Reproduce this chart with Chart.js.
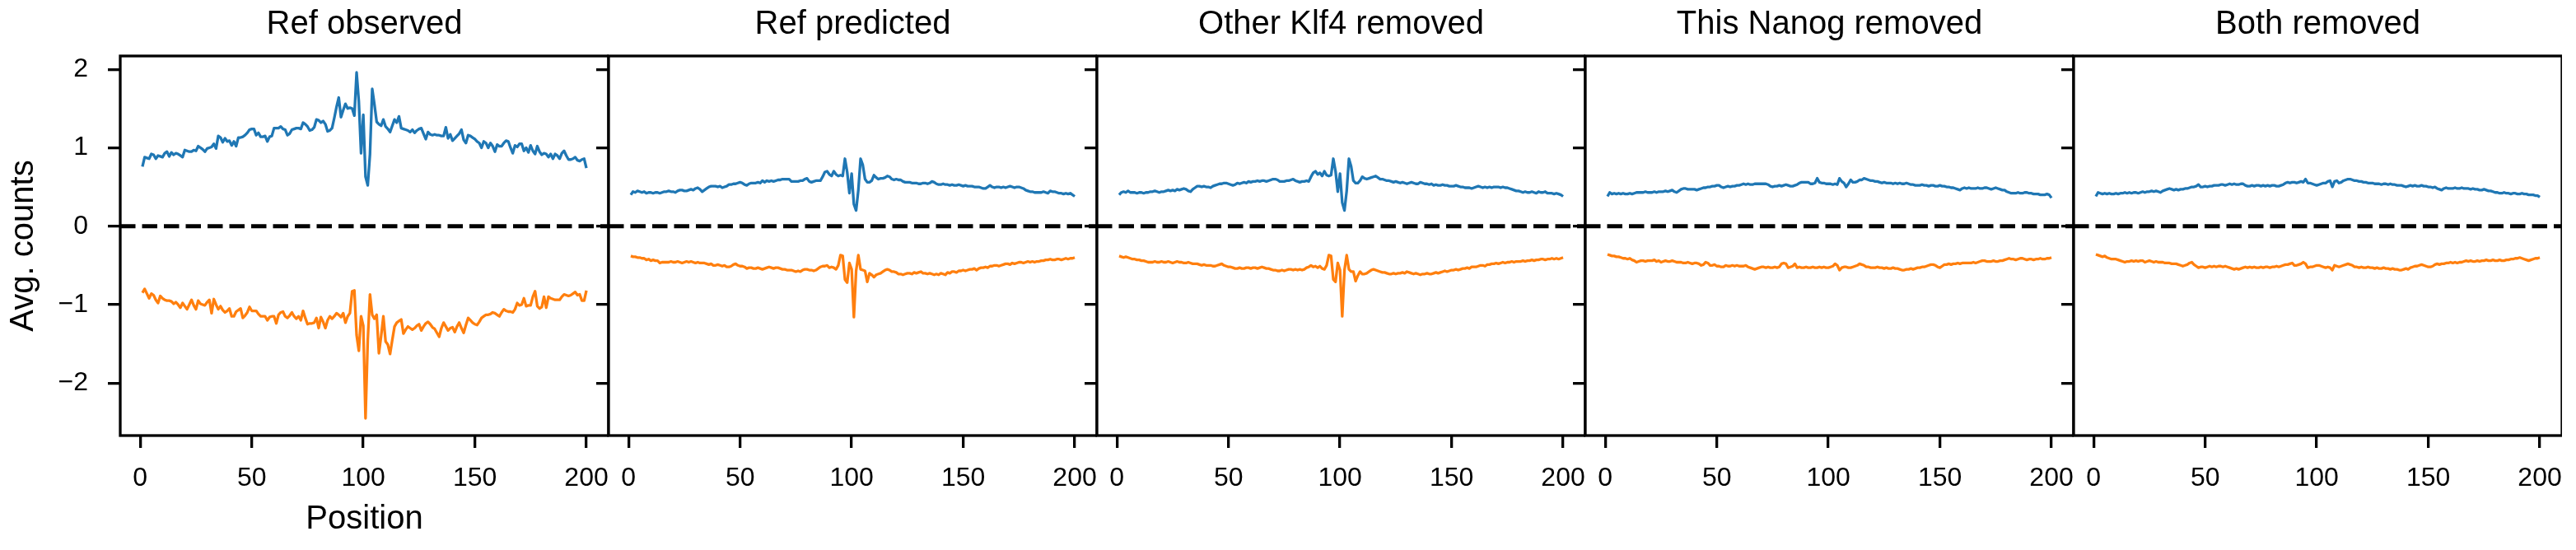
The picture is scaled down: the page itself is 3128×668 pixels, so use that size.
<!DOCTYPE html>
<html>
<head>
<meta charset="utf-8">
<script src="https://cdn.jsdelivr.net/npm/chart.js@4.4.1/dist/chart.umd.min.js"></script>
<style>
html, body { margin: 0; padding: 0; background: #fff; }
#wrap { position: relative; width: 3128px; height: 668px; overflow: hidden; }
#wrap canvas { position: absolute; top: 0; }
</style>
</head>
<body>
<div id="wrap"></div>
<script>
// x positions along the 200 bp window
const positions = Array.from({length: 200}, (_, i) => i + 1);
const panelTitles = ['Ref observed', 'Ref predicted', 'Other Klf4 removed', 'This Nanog removed', 'Both removed'];
const xTicks = [0, 50, 100, 150, 200];
const yTicks = [-2, -1, 0, 1, 2];
const xRange = [-8.95, 209.95];
const yRange = [-2.67, 2.17];

// Ref observed
const obsPos = [
  0.76,0.88,0.87,0.86,0.92,0.91,0.86,0.90,0.89,0.88,
  0.93,0.95,0.89,0.94,0.91,0.93,0.92,0.90,0.88,0.97,
  0.96,0.95,0.95,0.97,0.96,1.02,1.00,0.98,0.95,0.99,
  1.00,1.01,1.05,0.99,1.15,1.13,1.07,1.12,1.08,1.09,
  1.03,1.08,1.02,1.13,1.13,1.14,1.16,1.19,1.23,1.24,
  1.24,1.16,1.19,1.14,1.14,1.15,1.08,1.14,1.15,1.25,
  1.25,1.25,1.27,1.24,1.23,1.16,1.18,1.23,1.24,1.25,
  1.25,1.24,1.32,1.30,1.27,1.22,1.23,1.26,1.36,1.35,
  1.32,1.34,1.30,1.21,1.22,1.25,1.38,1.52,1.64,1.39,
  1.48,1.56,1.50,1.51,1.50,1.41,1.96,1.59,0.93,1.42,
  0.63,0.52,0.92,1.75,1.55,1.33,1.30,1.28,1.36,1.27,
  1.24,1.20,1.28,1.36,1.32,1.40,1.25,1.24,1.23,1.22,
  1.20,1.23,1.19,1.22,1.24,1.25,1.18,1.11,1.20,1.17,
  1.16,1.17,1.16,1.16,1.15,1.15,1.26,1.12,1.17,1.09,
  1.12,1.15,1.18,1.23,1.10,1.06,1.16,1.15,1.13,1.11,
  1.08,1.06,1.00,1.08,1.06,1.00,1.06,1.02,0.95,1.04,
  1.02,1.02,1.06,1.09,1.08,1.00,0.93,1.03,1.01,1.05,
  1.05,0.96,1.00,0.94,1.03,0.96,0.92,1.02,0.95,0.91,
  0.93,0.92,0.88,0.92,0.86,0.92,0.90,0.86,0.93,0.96,
  0.90,0.85,0.85,0.86,0.88,0.84,0.83,0.85,0.86,0.74
];
const obsNeg = [
  -0.85,-0.80,-0.86,-0.92,-0.86,-0.88,-0.94,-0.98,-0.89,-0.92,
  -0.94,-0.95,-0.95,-0.96,-0.99,-0.97,-1.00,-1.04,-0.98,-1.02,
  -1.06,-1.00,-0.94,-1.01,-1.06,-0.95,-0.99,-1.00,-1.01,-0.97,
  -0.94,-1.11,-0.93,-1.00,-1.06,-1.02,-1.07,-1.10,-1.08,-1.05,
  -1.15,-1.15,-1.09,-1.07,-1.05,-1.17,-1.14,-1.10,-1.03,-1.08,
  -1.08,-1.08,-1.12,-1.15,-1.15,-1.15,-1.20,-1.16,-1.15,-1.15,
  -1.24,-1.13,-1.10,-1.09,-1.15,-1.17,-1.14,-1.10,-1.15,-1.18,
  -1.15,-1.20,-1.08,-1.17,-1.25,-1.24,-1.24,-1.23,-1.17,-1.30,
  -1.16,-1.22,-1.30,-1.20,-1.15,-1.18,-1.15,-1.11,-1.13,-1.16,
  -1.11,-1.23,-1.15,-1.11,-0.83,-0.82,-1.39,-1.59,-1.15,-1.27,
  -2.45,-1.46,-0.87,-1.13,-1.18,-1.13,-1.62,-1.40,-1.15,-1.47,
  -1.51,-1.63,-1.45,-1.28,-1.23,-1.21,-1.19,-1.37,-1.32,-1.28,
  -1.30,-1.32,-1.30,-1.27,-1.25,-1.33,-1.28,-1.24,-1.22,-1.25,
  -1.29,-1.31,-1.36,-1.41,-1.30,-1.23,-1.28,-1.33,-1.30,-1.29,
  -1.35,-1.28,-1.23,-1.30,-1.36,-1.26,-1.17,-1.20,-1.23,-1.25,
  -1.26,-1.22,-1.17,-1.15,-1.13,-1.13,-1.12,-1.10,-1.11,-1.13,
  -1.15,-1.10,-1.06,-1.08,-1.09,-1.09,-1.10,-1.06,-0.98,-1.01,
  -1.00,-0.92,-1.02,-1.01,-1.01,-0.90,-0.83,-1.02,-1.05,-1.03,
  -0.90,-1.04,-0.90,-0.92,-0.93,-0.94,-0.94,-0.94,-0.90,-0.87,
  -0.88,-0.89,-0.88,-0.86,-0.84,-0.88,-0.87,-0.95,-0.95,-0.82
];

// Ref predicted
const predPos = [
  0.40,0.44,0.43,0.45,0.44,0.43,0.44,0.42,0.43,0.43,
  0.42,0.43,0.43,0.42,0.43,0.44,0.44,0.45,0.44,0.44,
  0.43,0.45,0.46,0.46,0.45,0.45,0.46,0.47,0.46,0.48,
  0.49,0.47,0.44,0.46,0.48,0.50,0.51,0.51,0.51,0.50,
  0.51,0.49,0.50,0.51,0.53,0.53,0.54,0.54,0.55,0.56,
  0.55,0.53,0.52,0.54,0.55,0.55,0.55,0.56,0.55,0.58,
  0.56,0.58,0.57,0.58,0.57,0.58,0.59,0.59,0.60,0.60,
  0.60,0.60,0.57,0.57,0.57,0.57,0.58,0.58,0.60,0.61,
  0.57,0.56,0.57,0.58,0.58,0.58,0.63,0.69,0.70,0.66,
  0.64,0.70,0.66,0.64,0.65,0.64,0.86,0.69,0.42,0.67,
  0.28,0.20,0.46,0.86,0.78,0.60,0.56,0.56,0.58,0.65,
  0.62,0.60,0.61,0.61,0.62,0.64,0.63,0.60,0.59,0.60,
  0.59,0.59,0.57,0.56,0.56,0.56,0.55,0.55,0.55,0.54,
  0.54,0.55,0.55,0.54,0.55,0.57,0.56,0.54,0.53,0.53,
  0.54,0.53,0.53,0.52,0.53,0.52,0.52,0.53,0.52,0.51,
  0.52,0.51,0.51,0.51,0.50,0.50,0.50,0.49,0.48,0.48,
  0.50,0.52,0.50,0.49,0.50,0.50,0.49,0.50,0.49,0.50,
  0.51,0.50,0.49,0.50,0.50,0.49,0.48,0.46,0.45,0.44,
  0.44,0.43,0.43,0.43,0.43,0.44,0.43,0.42,0.45,0.44,
  0.44,0.43,0.42,0.42,0.41,0.42,0.41,0.42,0.40,0.38
];
const predNeg = [
  -0.38,-0.39,-0.39,-0.40,-0.40,-0.41,-0.41,-0.43,-0.42,-0.44,
  -0.43,-0.44,-0.44,-0.47,-0.46,-0.46,-0.46,-0.46,-0.45,-0.46,
  -0.46,-0.45,-0.46,-0.47,-0.46,-0.45,-0.46,-0.45,-0.46,-0.47,
  -0.46,-0.47,-0.47,-0.47,-0.48,-0.49,-0.48,-0.50,-0.50,-0.49,
  -0.50,-0.51,-0.50,-0.52,-0.52,-0.51,-0.49,-0.48,-0.50,-0.51,
  -0.51,-0.52,-0.54,-0.53,-0.53,-0.54,-0.54,-0.53,-0.54,-0.55,
  -0.54,-0.53,-0.52,-0.53,-0.54,-0.53,-0.53,-0.54,-0.55,-0.55,
  -0.56,-0.56,-0.56,-0.57,-0.58,-0.57,-0.58,-0.56,-0.55,-0.55,
  -0.56,-0.56,-0.57,-0.56,-0.54,-0.52,-0.51,-0.51,-0.50,-0.53,
  -0.52,-0.53,-0.55,-0.50,-0.37,-0.38,-0.68,-0.72,-0.47,-0.55,
  -1.16,-0.57,-0.37,-0.55,-0.56,-0.57,-0.71,-0.60,-0.62,-0.65,
  -0.62,-0.61,-0.60,-0.58,-0.56,-0.55,-0.56,-0.58,-0.58,-0.59,
  -0.61,-0.61,-0.62,-0.61,-0.60,-0.60,-0.61,-0.59,-0.60,-0.59,
  -0.58,-0.60,-0.60,-0.61,-0.60,-0.61,-0.62,-0.61,-0.62,-0.60,
  -0.61,-0.62,-0.59,-0.60,-0.58,-0.58,-0.59,-0.57,-0.57,-0.56,
  -0.57,-0.56,-0.55,-0.55,-0.54,-0.56,-0.54,-0.53,-0.53,-0.52,
  -0.53,-0.51,-0.51,-0.50,-0.50,-0.51,-0.50,-0.49,-0.48,-0.48,
  -0.49,-0.47,-0.48,-0.47,-0.46,-0.46,-0.47,-0.46,-0.45,-0.46,
  -0.45,-0.46,-0.45,-0.45,-0.44,-0.44,-0.43,-0.43,-0.42,-0.43,
  -0.43,-0.42,-0.42,-0.43,-0.42,-0.41,-0.42,-0.41,-0.41,-0.40
];

// Other Klf4 removed
const klf4Pos = [
  0.40,0.43,0.44,0.43,0.45,0.43,0.43,0.43,0.42,0.43,
  0.43,0.42,0.43,0.43,0.44,0.44,0.45,0.44,0.43,0.44,
  0.44,0.45,0.46,0.45,0.46,0.45,0.47,0.46,0.47,0.48,
  0.47,0.45,0.44,0.47,0.49,0.51,0.51,0.50,0.51,0.50,
  0.50,0.49,0.51,0.52,0.53,0.54,0.54,0.55,0.55,0.54,
  0.53,0.52,0.53,0.55,0.54,0.55,0.56,0.55,0.57,0.56,
  0.57,0.57,0.58,0.57,0.58,0.58,0.57,0.58,0.59,0.60,
  0.60,0.59,0.57,0.57,0.57,0.58,0.58,0.59,0.60,0.58,
  0.57,0.56,0.57,0.57,0.58,0.57,0.63,0.68,0.70,0.66,
  0.68,0.64,0.70,0.65,0.64,0.65,0.86,0.70,0.44,0.67,
  0.30,0.20,0.45,0.86,0.76,0.58,0.55,0.55,0.58,0.63,
  0.61,0.60,0.61,0.62,0.63,0.64,0.62,0.60,0.60,0.59,
  0.58,0.58,0.57,0.56,0.57,0.56,0.55,0.56,0.55,0.54,
  0.55,0.56,0.55,0.54,0.54,0.56,0.55,0.54,0.54,0.53,
  0.54,0.52,0.53,0.52,0.52,0.53,0.52,0.52,0.51,0.51,
  0.51,0.52,0.51,0.50,0.50,0.49,0.49,0.49,0.48,0.49,
  0.50,0.51,0.50,0.49,0.50,0.49,0.50,0.49,0.50,0.50,
  0.50,0.49,0.50,0.49,0.49,0.48,0.47,0.46,0.45,0.45,
  0.44,0.43,0.44,0.43,0.43,0.44,0.43,0.42,0.44,0.43,
  0.43,0.44,0.42,0.42,0.42,0.41,0.42,0.41,0.40,0.38
];
const klf4Neg = [
  -0.38,-0.39,-0.40,-0.39,-0.40,-0.41,-0.42,-0.42,-0.43,-0.43,
  -0.44,-0.44,-0.45,-0.46,-0.46,-0.46,-0.45,-0.46,-0.46,-0.45,
  -0.46,-0.46,-0.45,-0.46,-0.47,-0.46,-0.45,-0.46,-0.46,-0.47,
  -0.47,-0.46,-0.47,-0.48,-0.48,-0.48,-0.49,-0.50,-0.49,-0.50,
  -0.50,-0.50,-0.51,-0.51,-0.50,-0.49,-0.48,-0.50,-0.51,-0.52,
  -0.52,-0.53,-0.54,-0.54,-0.53,-0.54,-0.54,-0.53,-0.53,-0.54,
  -0.53,-0.53,-0.54,-0.53,-0.52,-0.53,-0.54,-0.54,-0.55,-0.56,
  -0.56,-0.57,-0.57,-0.56,-0.57,-0.56,-0.55,-0.55,-0.56,-0.55,
  -0.56,-0.55,-0.56,-0.55,-0.53,-0.52,-0.50,-0.52,-0.51,-0.53,
  -0.51,-0.54,-0.55,-0.50,-0.37,-0.38,-0.68,-0.71,-0.47,-0.56,
  -1.15,-0.56,-0.37,-0.55,-0.58,-0.58,-0.70,-0.63,-0.58,-0.61,
  -0.61,-0.60,-0.58,-0.56,-0.55,-0.56,-0.57,-0.58,-0.59,-0.59,
  -0.60,-0.61,-0.61,-0.60,-0.61,-0.60,-0.60,-0.59,-0.60,-0.58,
  -0.59,-0.60,-0.61,-0.60,-0.61,-0.62,-0.61,-0.61,-0.60,-0.61,
  -0.61,-0.60,-0.59,-0.60,-0.59,-0.58,-0.57,-0.58,-0.57,-0.56,
  -0.56,-0.55,-0.56,-0.55,-0.54,-0.54,-0.53,-0.54,-0.52,-0.52,
  -0.52,-0.51,-0.50,-0.50,-0.51,-0.49,-0.49,-0.48,-0.48,-0.47,
  -0.48,-0.47,-0.46,-0.47,-0.46,-0.46,-0.45,-0.46,-0.45,-0.45,
  -0.45,-0.44,-0.45,-0.44,-0.44,-0.43,-0.44,-0.43,-0.43,-0.42,
  -0.42,-0.43,-0.42,-0.42,-0.41,-0.42,-0.41,-0.42,-0.41,-0.40
];

// This Nanog removed
const nanogPos = [
  0.38,0.43,0.41,0.42,0.41,0.42,0.41,0.42,0.41,0.41,
  0.42,0.41,0.42,0.43,0.43,0.43,0.43,0.44,0.43,0.43,
  0.43,0.44,0.43,0.44,0.44,0.44,0.45,0.44,0.45,0.46,
  0.44,0.43,0.45,0.47,0.48,0.48,0.47,0.47,0.47,0.47,
  0.46,0.47,0.48,0.49,0.49,0.50,0.50,0.51,0.51,0.52,
  0.52,0.50,0.49,0.50,0.51,0.50,0.51,0.51,0.52,0.52,
  0.53,0.54,0.53,0.54,0.53,0.53,0.54,0.54,0.54,0.54,
  0.54,0.54,0.53,0.51,0.50,0.51,0.51,0.52,0.51,0.52,
  0.53,0.52,0.51,0.51,0.52,0.53,0.55,0.56,0.56,0.56,
  0.56,0.54,0.54,0.55,0.61,0.56,0.55,0.55,0.54,0.54,
  0.54,0.53,0.54,0.53,0.61,0.57,0.55,0.50,0.54,0.59,
  0.56,0.56,0.57,0.59,0.59,0.61,0.60,0.59,0.58,0.58,
  0.57,0.57,0.56,0.55,0.56,0.55,0.55,0.55,0.54,0.55,
  0.54,0.55,0.54,0.54,0.55,0.54,0.53,0.53,0.52,0.52,
  0.52,0.53,0.52,0.52,0.51,0.52,0.52,0.51,0.51,0.52,
  0.51,0.51,0.50,0.50,0.49,0.49,0.48,0.47,0.46,0.48,
  0.49,0.48,0.49,0.48,0.48,0.48,0.49,0.48,0.48,0.49,
  0.49,0.48,0.47,0.48,0.49,0.48,0.47,0.46,0.46,0.44,
  0.43,0.42,0.42,0.42,0.43,0.42,0.42,0.43,0.43,0.42,
  0.42,0.41,0.41,0.41,0.40,0.40,0.40,0.41,0.40,0.36
];
const nanogNeg = [
  -0.36,-0.37,-0.38,-0.38,-0.39,-0.39,-0.40,-0.41,-0.41,-0.42,
  -0.41,-0.43,-0.44,-0.46,-0.45,-0.44,-0.44,-0.45,-0.44,-0.44,
  -0.44,-0.43,-0.45,-0.44,-0.46,-0.45,-0.44,-0.45,-0.45,-0.44,
  -0.45,-0.46,-0.46,-0.46,-0.47,-0.47,-0.46,-0.47,-0.48,-0.47,
  -0.47,-0.48,-0.50,-0.49,-0.46,-0.47,-0.50,-0.50,-0.49,-0.51,
  -0.51,-0.52,-0.52,-0.50,-0.51,-0.51,-0.50,-0.51,-0.50,-0.51,
  -0.51,-0.51,-0.50,-0.52,-0.53,-0.54,-0.55,-0.54,-0.53,-0.52,
  -0.52,-0.53,-0.52,-0.53,-0.53,-0.52,-0.53,-0.52,-0.48,-0.47,
  -0.48,-0.53,-0.52,-0.51,-0.48,-0.53,-0.52,-0.53,-0.53,-0.52,
  -0.53,-0.53,-0.52,-0.53,-0.53,-0.52,-0.53,-0.52,-0.53,-0.53,
  -0.52,-0.51,-0.48,-0.50,-0.56,-0.53,-0.52,-0.52,-0.53,-0.53,
  -0.52,-0.51,-0.50,-0.48,-0.49,-0.50,-0.52,-0.52,-0.53,-0.53,
  -0.53,-0.52,-0.53,-0.53,-0.54,-0.53,-0.54,-0.54,-0.53,-0.54,
  -0.54,-0.55,-0.56,-0.56,-0.55,-0.55,-0.54,-0.55,-0.54,-0.53,
  -0.53,-0.52,-0.52,-0.51,-0.50,-0.49,-0.49,-0.50,-0.52,-0.53,
  -0.51,-0.49,-0.49,-0.48,-0.49,-0.48,-0.48,-0.47,-0.48,-0.47,
  -0.47,-0.47,-0.47,-0.47,-0.46,-0.47,-0.46,-0.45,-0.44,-0.44,
  -0.45,-0.45,-0.45,-0.44,-0.45,-0.45,-0.44,-0.44,-0.43,-0.42,
  -0.41,-0.42,-0.42,-0.43,-0.42,-0.41,-0.41,-0.42,-0.43,-0.42,
  -0.42,-0.43,-0.42,-0.42,-0.41,-0.42,-0.42,-0.41,-0.41,-0.40
];

// Both removed
const bothPos = [
  0.38,0.43,0.42,0.41,0.42,0.41,0.42,0.41,0.41,0.42,
  0.41,0.42,0.42,0.43,0.42,0.43,0.42,0.43,0.43,0.42,
  0.43,0.44,0.43,0.44,0.44,0.45,0.44,0.45,0.44,0.43,
  0.45,0.46,0.47,0.48,0.47,0.46,0.47,0.46,0.47,0.47,
  0.48,0.48,0.49,0.50,0.50,0.51,0.53,0.50,0.50,0.51,
  0.50,0.51,0.51,0.52,0.52,0.52,0.53,0.53,0.52,0.53,
  0.54,0.53,0.54,0.53,0.53,0.54,0.54,0.52,0.51,0.51,
  0.52,0.51,0.52,0.52,0.51,0.52,0.51,0.52,0.51,0.52,
  0.52,0.51,0.51,0.52,0.53,0.55,0.56,0.55,0.56,0.56,
  0.55,0.56,0.57,0.56,0.60,0.55,0.55,0.54,0.53,0.52,
  0.53,0.54,0.55,0.55,0.57,0.58,0.50,0.57,0.58,0.55,
  0.56,0.58,0.59,0.60,0.60,0.59,0.58,0.58,0.57,0.57,
  0.56,0.56,0.55,0.55,0.55,0.54,0.54,0.54,0.53,0.54,
  0.54,0.53,0.54,0.53,0.53,0.52,0.52,0.52,0.51,0.50,
  0.51,0.52,0.51,0.52,0.51,0.51,0.52,0.51,0.51,0.50,
  0.50,0.49,0.50,0.48,0.47,0.46,0.48,0.49,0.48,0.48,
  0.48,0.49,0.48,0.48,0.49,0.48,0.48,0.48,0.47,0.48,
  0.47,0.47,0.46,0.46,0.47,0.46,0.45,0.45,0.44,0.43,
  0.43,0.42,0.42,0.43,0.42,0.42,0.41,0.42,0.42,0.41,
  0.41,0.42,0.41,0.41,0.40,0.40,0.40,0.39,0.39,0.37
];
const bothNeg = [
  -0.36,-0.37,-0.38,-0.39,-0.38,-0.40,-0.41,-0.42,-0.42,-0.42,
  -0.43,-0.44,-0.45,-0.46,-0.45,-0.45,-0.44,-0.45,-0.44,-0.45,
  -0.44,-0.44,-0.46,-0.45,-0.44,-0.45,-0.46,-0.45,-0.46,-0.46,
  -0.46,-0.47,-0.47,-0.47,-0.48,-0.48,-0.48,-0.49,-0.50,-0.51,
  -0.50,-0.49,-0.47,-0.46,-0.49,-0.51,-0.53,-0.52,-0.52,-0.53,
  -0.52,-0.51,-0.52,-0.51,-0.52,-0.51,-0.51,-0.52,-0.51,-0.52,
  -0.53,-0.54,-0.55,-0.54,-0.55,-0.54,-0.53,-0.52,-0.53,-0.52,
  -0.53,-0.52,-0.53,-0.53,-0.52,-0.53,-0.52,-0.52,-0.53,-0.52,
  -0.52,-0.51,-0.52,-0.51,-0.50,-0.49,-0.49,-0.48,-0.47,-0.50,
  -0.50,-0.49,-0.48,-0.46,-0.48,-0.53,-0.52,-0.52,-0.51,-0.50,
  -0.50,-0.51,-0.52,-0.53,-0.52,-0.53,-0.56,-0.50,-0.51,-0.52,
  -0.51,-0.50,-0.49,-0.48,-0.49,-0.50,-0.52,-0.52,-0.53,-0.52,
  -0.53,-0.53,-0.52,-0.53,-0.53,-0.54,-0.53,-0.54,-0.54,-0.53,
  -0.54,-0.54,-0.55,-0.54,-0.55,-0.55,-0.56,-0.56,-0.55,-0.54,
  -0.55,-0.53,-0.52,-0.51,-0.51,-0.50,-0.49,-0.50,-0.51,-0.52,
  -0.52,-0.51,-0.49,-0.48,-0.49,-0.48,-0.48,-0.47,-0.47,-0.46,
  -0.47,-0.46,-0.47,-0.46,-0.46,-0.45,-0.44,-0.45,-0.44,-0.45,
  -0.45,-0.44,-0.45,-0.44,-0.44,-0.43,-0.44,-0.44,-0.43,-0.44,
  -0.44,-0.43,-0.44,-0.44,-0.43,-0.43,-0.42,-0.42,-0.41,-0.41,
  -0.40,-0.41,-0.42,-0.43,-0.44,-0.43,-0.42,-0.41,-0.41,-0.40
];

const panels = [
  [obsPos, obsNeg],
  [predPos, predNeg],
  [klf4Pos, klf4Neg],
  [nanogPos, nanogNeg],
  [bothPos, bothNeg]
];

const FONT = "'Liberation Sans', Arial, sans-serif";
const H = 668;
const plotLeft = 146, plotW = 593, plotBottom = 529;

// axes frame (all four spines)
const frame = {
  id: 'frame',
  afterDraw(chart) {
    const {ctx, chartArea: a} = chart;
    ctx.save();
    ctx.strokeStyle = '#000';
    ctx.lineWidth = 3.3;
    ctx.strokeRect(a.left, a.top, a.right - a.left, a.bottom - a.top);
    ctx.restore();
  }
};

const fmt = v => (v < 0 ? '\u2212' + (-v) : String(v));
const tickGrid = {
  display: true, drawOnChartArea: false, drawTicks: true,
  tickLength: 15, tickWidth: 3.3, tickColor: '#000', color: '#000', lineWidth: 3.3
};
const wrap = document.getElementById('wrap');

panels.forEach((pair, i) => {
  const first = i === 0;
  const yW = first ? plotLeft : 17;
  const w = yW + plotW;
  const cv = document.createElement('canvas');
  cv.width = w;
  cv.height = H;
  cv.style.left = (plotLeft + plotW * i - yW) + 'px';
  cv.style.width = w + 'px';
  cv.style.height = H + 'px';
  wrap.appendChild(cv);

  new Chart(cv, {
    type: 'line',
    data: {
      datasets: [
        { data: positions.map((x, k) => ({x, y: pair[0][k]})), borderColor: '#1f77b4', borderWidth: 3.3 },
        { data: positions.map((x, k) => ({x, y: pair[1][k]})), borderColor: '#ff7f0e', borderWidth: 3.3 },
        { data: xRange.map(x => ({x, y: 0})), borderColor: '#000', borderWidth: 5, borderDash: [18.5, 8] }
      ]
    },
    options: {
      responsive: false,
      animation: false,
      devicePixelRatio: 1,
      layout: { padding: 0 },
      elements: { point: { radius: 0 }, line: { tension: 0, borderJoinStyle: 'round' } },
      plugins: {
        legend: { display: false },
        tooltip: { enabled: false },
        title: {
          display: true, text: panelTitles[i], fullSize: false, color: '#000',
          font: { family: FONT, size: 40, weight: 'normal', lineHeight: 1.2 },
          padding: { top: 6, bottom: 14 }
        }
      },
      scales: {
        x: {
          type: 'linear', min: xRange[0], max: xRange[1],
          afterBuildTicks: s => { s.ticks = xTicks.map(v => ({value: v})); },
          afterFit: s => { s.height = H - plotBottom; s.paddingLeft = 0; s.paddingRight = 0; },
          ticks: { color: '#000', font: { family: FONT, size: 32 }, padding: 18, maxRotation: 0, autoSkip: false, callback: fmt },
          grid: tickGrid,
          border: { display: false },
          title: { display: first, text: 'Position', color: '#000', font: { family: FONT, size: 40 }, padding: { top: 0, bottom: 13 } }
        },
        y: {
          min: yRange[0], max: yRange[1],
          afterBuildTicks: s => { s.ticks = yTicks.map(v => ({value: v})); },
          afterFit: s => { s.width = yW; s.paddingTop = 0; s.paddingBottom = 0; },
          ticks: { display: first, color: '#000', font: { family: FONT, size: 32 }, padding: 24, callback: fmt },
          grid: tickGrid,
          border: { display: false },
          title: { display: first, text: 'Avg. counts', color: '#000', font: { family: FONT, size: 40 }, padding: { top: 5, bottom: 0 } }
        }
      }
    },
    plugins: [frame]
  });
});
</script>
</body>
</html>
